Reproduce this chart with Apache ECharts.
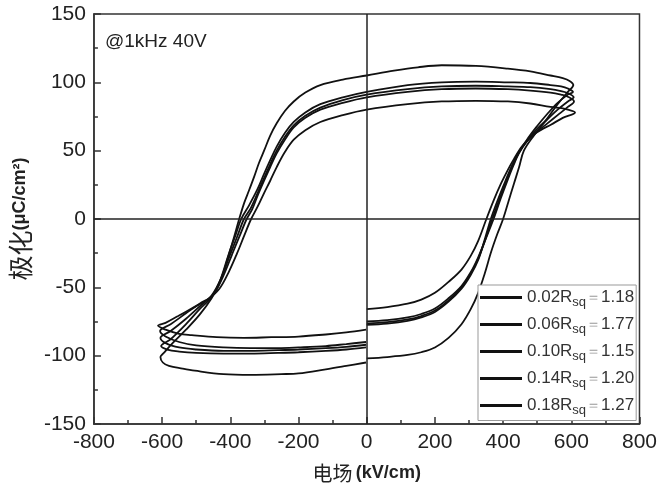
<!DOCTYPE html>
<html>
<head>
<meta charset="utf-8">
<script src="https://cdn.jsdelivr.net/npm/echarts@6/dist/echarts.min.js"></script>
<style>html,body{margin:0;padding:0;background:#fff;}#c{width:660px;height:491px;}</style>
</head>
<body>
<div id="c"></div>
<script>
// ---- data ----
const xTicks = [-800, -600, -400, -200, 0, 200, 400, 600, 800];
const yTicks = [-150, -100, -50, 0, 50, 100, 150];
const contents = ['0.02', '0.06', '0.10', '0.14', '0.18'];
const rsq = ['1.18', '1.77', '1.15', '1.20', '1.27'];
const noteText = '@1kHz 40V';

// each loop: [E (kV/cm), P (uC/cm2)] in measurement order
const loop002 = [
  [0,-76.5],[60,-75.5],[120,-73.5],[160,-71],[200,-67],[240,-59.5],[278,-50],[305,-40],[327,-29],[348,-15],[368,0],[390,15],[410,28],[428,39],[446,48],[470,57],[500,66],[530,73],[560,80],[590,86],[607,89],
  [590,92],[570,93.5],[539,95],[480,96.5],[414,97],[320,97.5],[220,97],[120,95],[0,91],[-70,87],[-136,81.5],[-180,75.5],[-214,68.5],[-240,60],[-264,50],[-283,40],[-301,30],[-320,19],[-340,8],[-360,0],[-380,-13],[-402,-27],[-428,-44],[-455,-56],[-490,-64],[-530,-73],[-575,-82],[-605,-87],
  [-588,-91],[-550,-94],[-500,-95.5],[-420,-96.5],[-340,-96.5],[-260,-96],[-200,-95.5],[-120,-94.5],[-60,-93.5],[-2,-92]
];
const loop006 = [
  [0,-102],[60,-101],[120,-99.5],[160,-97.5],[200,-94],[240,-87],[278,-77],[305,-66],[327,-54],[346,-40],[365,-24],[383,-11],[400,0],[416,13],[432,26],[447,38],[461,50],[490,61],[525,72],[560,84],[590,93],[606,98],
  [595,101],[575,103],[539,105],[480,108],[414,110],[320,112],[220,112.5],[150,111],[80,108.5],[0,105],[-70,102],[-136,98],[-180,92.5],[-214,86],[-240,79],[-264,70],[-283,61],[-301,50],[-316,41],[-330,31],[-345,21],[-359,12],[-374,0],[-390,-14],[-409,-30],[-430,-46],[-455,-58],[-490,-70],[-530,-81],[-570,-91],[-595,-98],[-605,-101],
  [-598,-105],[-580,-107.5],[-540,-109.5],[-504,-111],[-420,-113.5],[-339,-114],[-250,-113.5],[-200,-113],[-120,-110],[-60,-107.5],[-2,-105]
];
const loop010 = [
  [0,-77.5],[60,-76.5],[120,-74.5],[160,-72],[200,-68],[240,-60.5],[278,-51],[305,-41],[327,-30],[345,-16],[364,0],[386,15],[407,28],[426,39],[446,49],[470,57],[500,64],[530,70],[560,76],[590,82],[608,86],
  [590,89.5],[570,91],[539,92.5],[480,94],[414,95],[320,95.5],[220,95],[120,93],[0,89],[-70,85],[-136,80],[-180,74],[-214,67],[-240,58],[-264,48],[-283,38],[-301,28],[-320,17],[-336,7],[-352,0],[-372,-12],[-395,-26],[-423,-43],[-452,-56],[-490,-62],[-530,-69],[-575,-77],[-606,-82],
  [-590,-86],[-550,-90],[-500,-92.5],[-420,-94],[-340,-94.5],[-260,-94.5],[-200,-94],[-120,-93],[-60,-91.5],[-2,-90]
];
const loop014 = [
  [0,-75],[60,-74],[120,-72],[160,-69.5],[200,-65.5],[240,-58],[278,-49],[305,-39],[327,-28],[350,-14],[372,0],[393,15],[414,29],[430,39],[446,48],[470,58],[500,68],[530,77],[560,85],[590,91],[605,93],
  [590,95.5],[570,97],[539,98],[480,99.5],[414,100],[320,100.5],[220,100],[120,98],[0,93],[-70,89],[-136,84],[-180,78],[-214,71],[-240,63],[-264,53],[-283,43],[-301,33],[-320,22],[-345,10],[-368,0],[-385,-12],[-405,-26],[-430,-45],[-455,-57],[-490,-66],[-530,-77],[-575,-88],[-603,-93],
  [-585,-95.5],[-550,-97],[-500,-98],[-420,-98.5],[-340,-98.5],[-260,-98],[-200,-97.5],[-120,-96.5],[-60,-95.5],[-2,-94]
];
const loop018 = [
  [0,-66],[60,-64.5],[120,-62],[160,-59],[200,-54],[240,-46],[278,-37],[305,-27],[327,-16],[351,0],[373,14],[394,26],[414,36],[432,44],[455,53],[481,60],[510,65],[540,69],[575,74],[611,78],
  [590,80],[575,81],[539,82],[480,84.5],[414,86],[320,86.5],[220,86],[120,84],[0,80],[-70,76],[-136,71],[-180,65],[-214,58],[-240,49],[-264,38],[-283,28],[-301,19],[-320,9],[-339,0],[-359,-12],[-380,-25],[-405,-39],[-432,-51],[-467,-59],[-510,-65],[-553,-71],[-590,-76],[-612,-78],
  [-590,-81],[-550,-84],[-513,-85],[-440,-86.5],[-360,-87],[-280,-86.5],[-200,-86],[-120,-84.5],[-60,-83],[-2,-81]
];
const loops = [loop002, loop006, loop010, loop014, loop018];

// ---- chart ----
const chart = echarts.init(document.getElementById('c'), null, {renderer: 'canvas'});
const names = contents.map((c, i) => c + 'R_sq=' + rsq[i]);
const series = loops.map((d, i) => ({
  name: names[i],
  type: 'line',
  data: d,
  symbol: 'none',
  showSymbol: false,
  smooth: 0.35,
  lineStyle: {color: '#111', width: 1.8},
  itemStyle: {color: '#111'},
  z: 3
}));
series[0].markLine = {
  silent: true,
  symbol: 'none',
  label: {show: false},
  lineStyle: {color: '#222', width: 1.5, type: 'solid'},
  data: [{xAxis: 0}, {yAxis: 0}],
  animation: false
};

const labelFont = {fontFamily: 'Liberation Sans, Arial, sans-serif', fontSize: 21, color: '#222'};

chart.setOption({
  animation: false,
  backgroundColor: '#fff',
  title: {
    text: noteText,
    left: 100, top: 27,
    textStyle: {fontFamily: 'Liberation Sans, Arial, sans-serif', fontSize: 19, fontWeight: 'normal', color: '#222'}
  },
  grid: {left: 88, right: 20, top: 14, bottom: 67, show: true, borderColor: '#333', borderWidth: 1.5, backgroundColor: 'transparent'},
  legend: {
    orient: 'vertical',
    left: 478, top: 285,
    width: 158,
    padding: [4, 2, 4, 2],
    itemGap: 7.5,
    itemWidth: 42, itemHeight: 3,
    icon: 'rect',
    borderColor: '#999', borderWidth: 1,
    backgroundColor: '#fff',
    data: names,
    formatter: function (n) {
      const i = names.indexOf(n);
      return '{a|' + contents[i] + 'R}{s|sq}{e|＝}{a|' + rsq[i] + '}';
    },
    textStyle: {
      rich: {
        a: {fontFamily: 'Liberation Sans, Arial, sans-serif', fontSize: 17, color: '#333', lineHeight: 22},
        s: {fontFamily: 'Liberation Sans, Arial, sans-serif', fontSize: 13, color: '#333', padding: [9, 0, 0, 0]},
        e: {fontFamily: 'Liberation Sans, Arial, sans-serif', fontSize: 15, color: '#999'}
      }
    }
  },
  xAxis: {
    type: 'value',
    min: xTicks[0], max: xTicks[xTicks.length - 1], interval: 200,
    name: '{c|电场} {b|(kV/cm)}',
    nameLocation: 'middle', nameGap: 39,
    nameTextStyle: {
      rich: {
        c: {fontFamily: 'Noto Sans CJK SC', fontSize: 20, color: '#222'},
        b: {fontFamily: 'Liberation Sans, Arial, sans-serif', fontSize: 18, fontWeight: 'bold', color: '#222'}
      }
    },
    axisLine: {onZero: false, lineStyle: {color: '#333', width: 1.5}},
    axisTick: {inside: true, length: 7, lineStyle: {color: '#333', width: 1.5}},
    minorTick: {show: true, splitNumber: 2, length: 4, lineStyle: {color: '#333', width: 1.5}},
    splitLine: {show: false},
    axisLabel: Object.assign({margin: 8, showMinLabel: true, showMaxLabel: true}, labelFont)
  },
  yAxis: {
    type: 'value',
    min: yTicks[0], max: yTicks[yTicks.length - 1], interval: 50,
    name: '{c|极化}{b|(μC/cm²)}',
    nameLocation: 'middle', nameGap: 54, nameRotate: 90,
    nameTextStyle: {
      rich: {
        c: {fontFamily: 'Noto Sans CJK SC', fontSize: 25, color: '#222'},
        b: {fontFamily: 'Liberation Sans, Arial, sans-serif', fontSize: 18, fontWeight: 'bold', color: '#222'}
      }
    },
    axisLine: {onZero: false, lineStyle: {color: '#333', width: 1.5}},
    axisTick: {inside: true, length: 7, lineStyle: {color: '#333', width: 1.5}},
    minorTick: {show: true, splitNumber: 2, length: 4, lineStyle: {color: '#333', width: 1.5}},
    splitLine: {show: false},
    axisLabel: Object.assign({margin: 8, showMinLabel: true, showMaxLabel: true}, labelFont)
  },
  series: series
});
</script>
</body>
</html>
